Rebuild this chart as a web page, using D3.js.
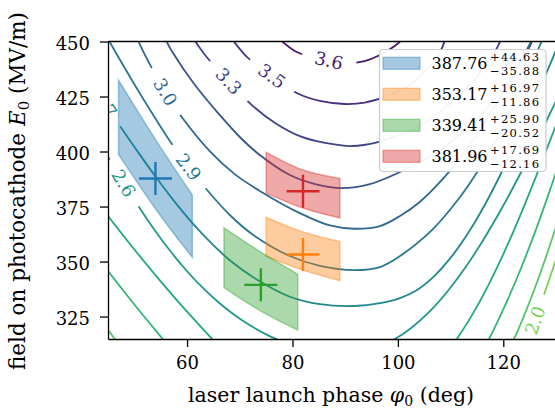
<!DOCTYPE html>
<html lang="en">
<head>
<meta charset="utf-8">
<title>Field vs launch phase</title>
<script src="https://d3js.org/d3.v7.min.js"></script>
<style>
  body { margin: 0; background: white; }
  text { font-family: "DejaVu Serif", serif; }
</style>
</head>
<body>
<script>

// ---- data ----
var phaseTicks = [60, 80, 100, 120];
var fieldTicks = [325, 350, 375, 400, 425, 450];

// contour levels, high to low
var levels = [3.6, 3.455, 3.309, 3.164, 3.018, 2.873, 2.727, 2.582, 2.436, 2.291, 2.145, 2.0];

// each contour as [phase (deg), field (MV/m)] points
var line360 = [[77.6,451],[80.8,445.2],[85.2,442.0],[89.9,440.2],[93.7,441.1],[96.2,443.4],[99.4,448.0],[100.9,451]];
var line346 = [[68.6,451],[71.2,443.4],[76.1,434.3],[80.8,426.6],[85.2,423.0],[89.9,421.6],[93.7,422.2],[97.5,424.8],[102.3,430.2],[106.1,438.9],[108.0,445.2],[109.0,451]];
var line331 = [[61.3,451],[63.6,443.3],[67.9,432.0],[72.3,421.1],[76.7,413.0],[81.4,407.0],[86.2,403.9],[91.3,402.5],[96.2,404.3],[102.3,409.3],[108.0,418.0],[113.7,430.7],[117.5,441.6],[119.6,451]];
var line316 = [[55.9,451],[57.1,445.7],[61.5,430.2],[66.2,416.6],[70.0,406.6],[73.8,398.4],[79.5,389.3],[84.3,385.2],[89.4,383.4],[94.7,385.2],[100.4,390.7],[108.0,400.7],[115.6,416.6],[121.3,432.5],[124.7,446.1],[125.6,451]];
var line302 = [[50.6,451],[52.2,443.0],[56.2,425.8],[59.2,415.0],[64.3,400.2],[69.1,389.6],[73.8,382.1],[81.4,372.0],[87.1,366.4],[91.8,364.9],[96.6,366.1],[100.4,370.7],[104.2,377.2],[108.7,388.0],[113.2,401.5],[117.7,417.7],[121.7,434.1],[125.5,451]];
var line287 = [[45.0,451.2],[46.3,445.7],[50.0,430.6],[53.5,416.9],[56.8,404.6],[60.3,393.0],[63.8,382.5],[68.3,370.7],[72.9,361.5],[79.5,352.5],[85.2,348.0],[91.8,346.1],[96.6,347.5],[100.4,352.5],[106.5,364.4],[111.5,378.4],[115.5,392.4],[119.0,407.1],[122.0,421.5],[125.0,437.4],[127.5,451.4]];
var line273 = [[41.6,431.5],[44.4,421.7],[47.2,411.8],[51.0,398.7],[54.3,387.7],[57.7,377.0],[62.4,363.8],[68.1,350.6],[73.8,341.0],[79.5,334.0],[85.2,330.6],[91.8,329.8],[96.6,331.1],[100.4,333.4],[103.4,336.7],[106.9,343.4],[110.4,352.9],[113.9,365.1],[117.4,379.8],[120.9,396.6],[124.4,414.8],[127.9,434.1],[130.9,451.2]];
var line258 = [[43,405],[45,397.5],[48,385.6],[51,374.3],[54,363.8],[57,354.2],[60,345.6],[63,338.0],[66,331.4],[69,325.7],[72,320.9],[75,316.9],[78,313.7],[81,311.3],[85,309.3],[90,308.3],[95,310.3],[99.4,314.8],[102.4,319.6],[105.9,327.0],[109.4,336.4],[112.9,347.6],[116.4,360.6],[119.9,375.0],[123.4,390.7],[126.9,407.5],[130.4,425]];
var line244 = [[43,377],[45,370.7],[50,355.5],[55,341.0],[60,327.2],[65,314.2],[70,301.9],[80,285],[95,282],[106,297],[111.2,314.8],[114.2,326.2],[117.2,339.4],[120.2,354.4],[123.2,370.9],[126.2,388.6],[129.2,407],[131,418]];
var line229 = [[43,352],[45,345.7],[48,336.5],[51,327.5],[54,318.8],[55.4,314.8],[58,307.5],[70,285],[95,272],[112,292],[117.3,314.8],[120.3,329.8],[123.3,346.6],[126.3,365.2],[129.3,385.6],[131,397.5]];
var line214 = [[43,324],[45.0,318.9],[46.3,314.8],[48,309.5],[60,285],[90,270],[110,280],[116,292],[122.0,314.8],[124.0,325.8],[126.0,338.0],[128.0,351.4],[131,373]];
var line200 = [[123.2,305.5],[124.7,314.8],[126.0,323.3],[128.3,339.0],[131,358]];
var contourLines = [line360, line346, line331, line316, line302, line287, line273, line258, line244, line229, line214, line200];

// inline contour labels
var labelText  = ["3.6", "3.5", "3.3", "3.0", "2.9", "2.7", "2.6", "2.0"];
var labelLine  = [0, 1, 2, 4, 5, 6, 7, 11];
var labelPhase = [86.9, 76.1, 67.9, 55.9, 60.3, 44.4, 48.0, 126.0];
var labelField = [441.4, 434.3, 432.0, 427.1, 393.0, 421.7, 385.6, 323.3];

// best fits with uncertainty bands
var fitColors = ["#1f77b4", "#ff7f0e", "#2ca02c", "#d62728"];
var fitPhase  = [54, 82, 74, 82];
var fitField  = [387.76, 353.17, 339.41, 381.96];
var errPlus   = [44.63, 16.97, 25.90, 17.69];
var errMinus  = [35.88, 11.86, 20.52, 12.16];
var phaseHalf = 7;
// band edges at left, centre and right phase
var bandTop    = [[432.39, 405.5, 380.2], [370.14, 363.4, 359.1], [365.31, 354.3, 344.3], [399.65, 391.6, 387.8]];
var bandBottom = [[398.6, 374.0, 351.88], [352.4, 346.1, 341.31], [338.2, 327.5, 318.89], [381.1, 374.3, 369.80]];

// ---- drawing ----
var w = 555, h = 410;
var margin = {left: 108, top: 41.5, right: 556, bottom: 339};

var svg = d3.select("body").append("svg")
    .attr("width", w)
    .attr("height", h);

var xScale = d3.scaleLinear().domain([45, 130]).range([margin.left, margin.right]);
var yScale = d3.scaleLinear().domain([314.8, 450]).range([margin.bottom, margin.top]);

var levelColor = function(v) { return d3.interpolateViridis(0.07 + (3.6 - v) * 0.456); };

var defs = svg.append("defs");
defs.append("clipPath").attr("id", "plotclip")
  .append("rect")
    .attr("x", margin.left).attr("y", margin.top)
    .attr("width", margin.right - margin.left)
    .attr("height", margin.bottom - margin.top);

var plot = svg.append("g").attr("clip-path", "url(#plotclip)");

var lineGen = d3.line()
    .x(d => xScale(d[0]))
    .y(d => yScale(d[1]))
    .curve(d3.curveCatmullRom.alpha(0.5));

var contourG = plot.append("g");
var labelG = plot.append("g");

// labels first so the gaps can be sized from the text
var gaps = {};
labelText.forEach(function(t, k) {
  var li = labelLine[k];
  var pts = contourLines[li].map(d => [xScale(d[0]), yScale(d[1])]);
  var px = xScale(labelPhase[k]), py = yScale(labelField[k]);
  var best = 0, bd = Infinity;
  pts.forEach(function(p, i) {
    var dd = (p[0] - px) * (p[0] - px) + (p[1] - py) * (p[1] - py);
    if (dd < bd) { bd = dd; best = i; }
  });
  var a = pts[Math.max(best - 1, 0)], b = pts[Math.min(best + 1, pts.length - 1)];
  var ang = Math.atan2(b[1] - a[1], b[0] - a[0]) * 180 / Math.PI;
  if (ang > 90) ang -= 180;
  if (ang < -90) ang += 180;

  var txt = labelG.append("text")
      .attr("transform", `translate(${px},${py}) rotate(${ang})`)
      .attr("text-anchor", "middle")
      .attr("dy", "0.36em")
      .attr("font-size", 18)
      .attr("fill", levelColor(levels[li]))
      .text(t);
  var len = txt.node().getComputedTextLength();
  if (!gaps[li]) gaps[li] = [];
  gaps[li].push({x: px, y: py, ang: ang, len: len + 26});
});

contourLines.forEach(function(pts, i) {
  var path = contourG.append("path")
      .attr("d", lineGen(pts))
      .attr("fill", "none")
      .attr("stroke", levelColor(levels[i]))
      .attr("stroke-width", 1.8);
  if (gaps[i]) {
    var m = defs.append("mask").attr("id", "gap" + i)
        .attr("maskUnits", "userSpaceOnUse")
        .attr("x", 0).attr("y", 0).attr("width", w).attr("height", h);
    m.append("rect").attr("width", w).attr("height", h).attr("fill", "white");
    gaps[i].forEach(function(g) {
      m.append("rect")
        .attr("x", -g.len / 2).attr("y", -8)
        .attr("width", g.len).attr("height", 16)
        .attr("transform", `translate(${g.x},${g.y}) rotate(${g.ang})`)
        .attr("fill", "black");
    });
    path.attr("mask", "url(#gap" + i + ")");
  }
});

// uncertainty bands
var bandArea = d3.area()
    .x(d => xScale(d.p))
    .y0(d => yScale(d.lo))
    .y1(d => yScale(d.hi))
    .curve(d3.curveMonotoneX);

fitPhase.forEach(function(p, i) {
  var ph = [p - phaseHalf, p, p + phaseHalf];
  var rows = ph.map((q, j) => ({p: q, lo: bandBottom[i][j], hi: bandTop[i][j]}));
  plot.append("path")
      .attr("d", bandArea(rows))
      .attr("fill", fitColors[i])
      .attr("fill-opacity", 0.4)
      .attr("stroke", fitColors[i])
      .attr("stroke-opacity", 0.4)
      .attr("stroke-width", 1.5);
});

fitPhase.forEach(function(p, i) {
  var cx = xScale(p), cy = yScale(fitField[i]), r = 16.5;
  plot.append("path")
      .attr("d", `M${cx - r},${cy}H${cx + r}M${cx},${cy - r}V${cy + r}`)
      .attr("stroke", fitColors[i])
      .attr("stroke-width", 2.4)
      .attr("fill", "none");
});

// axes
var xAxis = d3.axisBottom(xScale).tickValues(phaseTicks).tickSize(8).tickSizeOuter(0).tickPadding(9);
var yAxis = d3.axisLeft(yScale).tickValues(fieldTicks).tickSize(8).tickSizeOuter(0).tickPadding(10);

var gx = svg.append("g").attr("transform", `translate(0,${margin.bottom})`).call(xAxis);
var gy = svg.append("g").attr("transform", `translate(${margin.left},0)`).call(yAxis);
[gx, gy].forEach(function(g) {
  g.select(".domain").attr("stroke", "black").attr("stroke-width", 1.3);
  g.selectAll(".tick line").attr("stroke", "black").attr("stroke-width", 1.3);
  g.selectAll(".tick text").attr("font-family", "DejaVu Serif").attr("font-size", 18).attr("fill", "black");
});
gy.selectAll(".tick text").attr("dy", "0.45em");

svg.append("line")
    .attr("x1", margin.left).attr("x2", margin.right)
    .attr("y1", margin.top).attr("y2", margin.top)
    .attr("stroke", "black").attr("stroke-width", 1.3);

// axis titles
var xt = svg.append("text")
    .attr("x", 331).attr("y", 402)
    .attr("text-anchor", "middle")
    .attr("font-size", 20.5);
xt.append("tspan").text("laser launch phase ");
xt.append("tspan").attr("font-style", "italic").text("\u03c6");
xt.append("tspan").attr("dy", 4).attr("font-size", 14).text("0");
xt.append("tspan").attr("dy", -4).text(" (deg)");

var yt = svg.append("text")
    .attr("transform", "translate(25,191) rotate(-90)")
    .attr("text-anchor", "middle")
    .attr("font-size", 21.5);
yt.append("tspan").text("field on photocathode ");
yt.append("tspan").attr("font-style", "italic").text("E");
yt.append("tspan").attr("dy", 4).attr("font-size", 15).text("0");
yt.append("tspan").attr("dy", -4).text(" (MV/m)");

// legend
var lg = svg.append("g");
lg.append("rect")
    .attr("x", 379.5).attr("y", 49.5)
    .attr("width", 166.5).attr("height", 122)
    .attr("rx", 4)
    .attr("fill", "white").attr("fill-opacity", 0.95)
    .attr("stroke", "#cccccc").attr("stroke-width", 1.2);

fitColors.forEach(function(c, i) {
  var cy = 63.3 + i * 31;
  lg.append("rect")
      .attr("x", 383).attr("y", cy - 6)
      .attr("width", 37).attr("height", 12)
      .attr("fill", c).attr("fill-opacity", 0.4)
      .attr("stroke", c).attr("stroke-opacity", 0.4).attr("stroke-width", 1.3);
  lg.append("text")
      .attr("x", 431.5).attr("y", cy + 6)
      .attr("font-size", 16)
      .text(fitField[i].toFixed(2));
  lg.append("text")
      .attr("x", 490).attr("y", cy - 2.6)
      .attr("font-size", 11.5).attr("letter-spacing", 1.3)
      .text("+" + errPlus[i].toFixed(2));
  lg.append("text")
      .attr("x", 490).attr("y", cy + 11.7)
      .attr("font-size", 11.5).attr("letter-spacing", 1.3)
      .text("\u2212" + errMinus[i].toFixed(2));
});

</script>
</body>
</html>
